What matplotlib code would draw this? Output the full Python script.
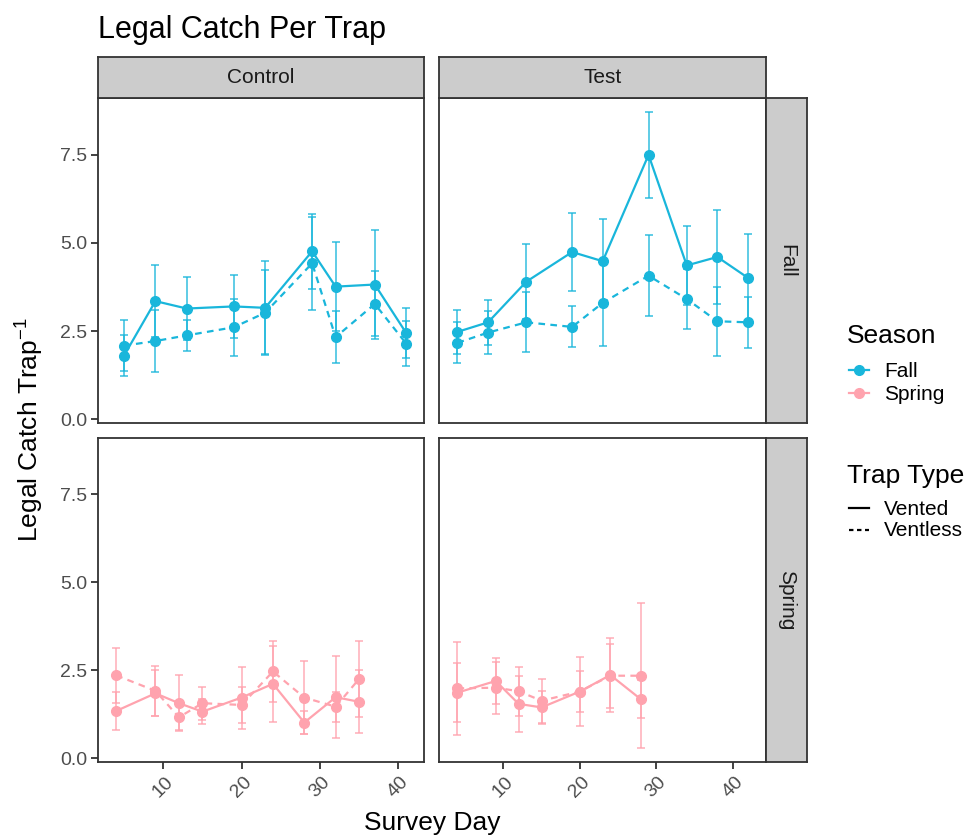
import matplotlib
matplotlib.use("Agg")
import matplotlib.pyplot as plt
from matplotlib.lines import Line2D

plt.rcParams['font.family'] = ['Liberation Sans', 'DejaVu Sans']
plt.rcParams['mathtext.fontset'] = 'custom'
plt.rcParams['mathtext.rm'] = 'Liberation Sans'
plt.rcParams['mathtext.default'] = 'regular'

# ---------------- data ----------------
treatments = ["Control", "Test"]
seasons = ["Fall", "Spring"]
trap_types = ["Vented", "Ventless"]

ctrl_fall_days = [5, 9, 13, 19, 23, 29, 32, 37, 41]
ctrl_fall_vented = [1.81, 3.35, 3.14, 3.20, 3.16, 4.76, 3.76, 3.82, 2.45]
ctrl_fall_vented_se = [0.57, 1.02, 0.89, 0.90, 1.32, 1.07, 1.25, 1.55, 0.71]
ctrl_fall_ventless = [2.09, 2.22, 2.38, 2.61, 3.02, 4.42, 2.33, 3.27, 2.15]
ctrl_fall_ventless_se = [0.73, 0.89, 0.43, 0.81, 1.20, 1.31, 0.74, 0.92, 0.63]

test_fall_days = [4, 8, 13, 19, 23, 29, 34, 38, 42]
test_fall_vented = [2.48, 2.75, 3.90, 4.74, 4.48, 7.49, 4.36, 4.60, 4.01]
test_fall_vented_se = [0.63, 0.64, 1.07, 1.10, 1.19, 1.22, 1.13, 1.34, 1.23]
test_fall_ventless = [2.17, 2.46, 2.75, 2.62, 3.30, 4.07, 3.41, 2.78, 2.75]
test_fall_ventless_se = [0.58, 0.60, 0.85, 0.58, 1.22, 1.15, 0.85, 0.98, 0.72]

ctrl_spring_days = [4, 9, 12, 15, 20, 24, 28, 32, 35]
ctrl_spring_vented = [1.35, 1.85, 1.57, 1.33, 1.73, 2.12, 1.02, 1.74, 1.61]
ctrl_spring_vented_se = [0.53, 0.65, 0.79, 0.36, 0.88, 1.08, 0.32, 1.16, 0.90]
ctrl_spring_ventless = [2.36, 1.92, 1.17, 1.57, 1.52, 2.47, 1.73, 1.47, 2.26]
ctrl_spring_ventless_se = [0.78, 0.71, 0.36, 0.47, 0.51, 0.88, 1.04, 0.43, 1.09]

test_spring_days = [4, 9, 12, 15, 20, 24, 28]
test_spring_vented = [1.87, 2.20, 1.55, 1.45, 1.90, 2.37, 1.68]
test_spring_vented_se = [0.84, 0.66, 0.80, 0.47, 0.98, 1.06, 0.54]
test_spring_ventless = [1.99, 2.01, 1.91, 1.64, 1.90, 2.35, 2.35]
test_spring_ventless_se = [1.32, 0.74, 0.70, 0.62, 0.57, 0.91, 2.06]

x_ticks = [10, 20, 30, 40]
y_ticks = [0.0, 2.5, 5.0, 7.5]
y_tick_labels = ["0.0", "2.5", "5.0", "7.5"]

panels = {
    ("Control", "Fall"): (ctrl_fall_days, ctrl_fall_vented, ctrl_fall_vented_se,
                          ctrl_fall_ventless, ctrl_fall_ventless_se),
    ("Test", "Fall"): (test_fall_days, test_fall_vented, test_fall_vented_se,
                       test_fall_ventless, test_fall_ventless_se),
    ("Control", "Spring"): (ctrl_spring_days, ctrl_spring_vented, ctrl_spring_vented_se,
                            ctrl_spring_ventless, ctrl_spring_ventless_se),
    ("Test", "Spring"): (test_spring_days, test_spring_vented, test_spring_vented_se,
                         test_spring_ventless, test_spring_ventless_se),
}

# ---------------- style ----------------
colors = {"Fall": "#19B6DB", "Spring": "#FFA3AE"}
dash = (3.0, 2.4)
W, H = 969, 836
border = "#333333"
tick_col = "#4D4D4D"

fig = plt.figure(figsize=(W / 100, H / 100), dpi=100)

def fx(px):
    return px / W

def fy(py):
    return 1 - py / H

col_x = {"Control": (98.3, 424.0), "Test": (439.0, 766.0)}
row_y = {"Fall": (98.0, 423.0), "Spring": (438.0, 762.0)}
col_xlim = {"Control": (1.71, 43.28), "Test": (1.58, 44.37)}

for tr in treatments:
    for se in seasons:
        x0, x1 = col_x[tr]
        y0, y1 = row_y[se]
        ax = fig.add_axes([fx(x0), fy(y1), fx(x1 - x0), (y1 - y0) / H])
        days, v, vse, vl, vlse = panels[(tr, se)]
        c = colors[se]
        ax.errorbar(days, v, yerr=vse, fmt='none', ecolor=c, alpha=0.75,
                    elinewidth=1.3, capsize=2.6, capthick=1.3, zorder=2)
        ax.errorbar(days, vl, yerr=vlse, fmt='none', ecolor=c, alpha=0.75,
                    elinewidth=1.3, capsize=2.6, capthick=1.3, zorder=2)
        ax.plot(days, v, color=c, lw=1.6, marker='o', ms=7, zorder=3)
        ax.plot(days, vl, color=c, lw=1.6, ls=(0, dash), marker='o', ms=7, zorder=3)
        ax.set_xlim(*col_xlim[tr])
        ax.set_ylim(-0.1, 9.1)
        ax.set_xticks(x_ticks)
        ax.set_yticks(y_ticks)
        for sp in ax.spines.values():
            sp.set_color(border)
            sp.set_linewidth(1.3)
        ax.tick_params(length=5, width=1.3, color=border, labelcolor=tick_col,
                       labelsize=14, pad=3)
        if tr == "Control":
            ax.set_yticklabels(y_tick_labels)
        else:
            ax.tick_params(axis='y', left=False, labelleft=False)
        if se == "Spring":
            ax.set_xticklabels([str(t) for t in x_ticks], rotation=45,
                               ha='center', va='top')
        else:
            ax.tick_params(axis='x', bottom=False, labelbottom=False)

# strips
def strip(x0, x1, y0, y1, text, rot):
    sax = fig.add_axes([fx(x0), fy(y1), fx(x1 - x0), (y1 - y0) / H])
    sax.set_facecolor("#CCCCCC")
    sax.set_xticks([])
    sax.set_yticks([])
    for sp in sax.spines.values():
        sp.set_color(border)
        sp.set_linewidth(1.3)
    sax.text(0.5, 0.5, text, transform=sax.transAxes, ha='center', va='center',
             fontsize=15, color="#1A1A1A", rotation=rot)

for tr in treatments:
    x0, x1 = col_x[tr]
    strip(x0, x1, 57, 98, tr, 0)
for se in seasons:
    y0, y1 = row_y[se]
    strip(766, 807, y0, y1, se, -90)

# titles
fig.text(fx(98), fy(38), "Legal Catch Per Trap", fontsize=22, ha='left', va='baseline')
fig.text(fx(432), fy(823), "Survey Day", fontsize=19, ha='center', va='center')
fig.text(fx(30), fy(430), "Legal Catch Trap$^{-1}$", fontsize=19, ha='center',
         va='center', rotation=90)

# legend
fig.text(fx(847), fy(343), "Season", fontsize=19, ha='left', va='baseline')
for se, ky, by in [("Fall", 370, 377), ("Spring", 393, 400)]:
    fig.add_artist(Line2D([fx(849), fx(869)], [fy(ky), fy(ky)], transform=fig.transFigure,
                          color=colors[se], lw=1.6))
    fig.add_artist(Line2D([fx(859)], [fy(ky)], transform=fig.transFigure,
                          color=colors[se], marker='o', ms=7, ls='none'))
    fig.text(fx(884), fy(by), se, fontsize=15, ha='left', va='baseline')

fig.text(fx(847), fy(483), "Trap Type", fontsize=19, ha='left', va='baseline')
for tt, ky, by, ls in [("Vented", 508, 515, '-'), ("Ventless", 530, 536, (0, (2, 1.6)))]:
    fig.add_artist(Line2D([fx(849), fx(869)], [fy(ky), fy(ky)], transform=fig.transFigure,
                          color="black", lw=1.6, ls=ls))
    fig.text(fx(884), fy(by), tt, fontsize=15, ha='left', va='baseline')

fig.savefig("out.png", dpi=100)
